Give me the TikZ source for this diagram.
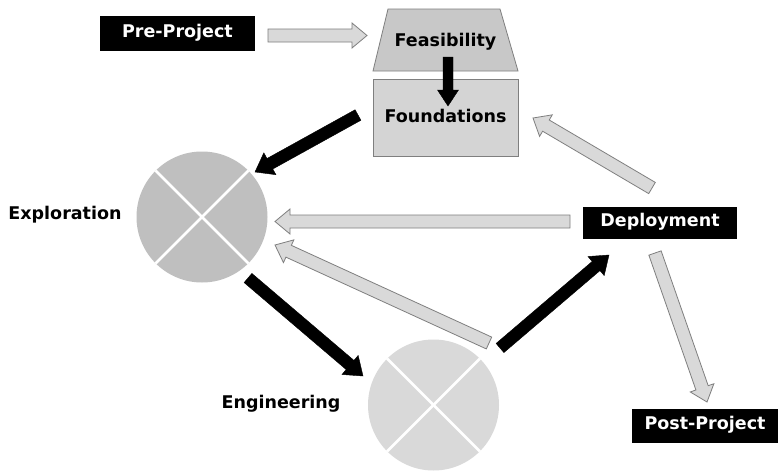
\documentclass[tikz,border=0pt]{standalone}
\usepackage{fontspec}
\setmainfont{DejaVu Sans}
\usetikzlibrary{calc}
\definecolor{arrowfill}{HTML}{D9D9D9}
\definecolor{arrowline}{HTML}{7F7F7F}
\definecolor{feasfill}{HTML}{C8C8C8}
\definecolor{foundfill}{HTML}{D4D4D4}
\definecolor{explofill}{HTML}{BFBFBF}
\definecolor{engfill}{HTML}{D9D9D9}
% #1 style, #2 from, #3 to, #4 half shaft, #5 half head, #6 head length
\newcommand{\blockarrow}[6]{%
 \coordinate (neck) at ($(#3)!#6!(#2)$);
 \filldraw[#1] ($(#2)!#4!90:(#3)$) -- ($(neck)!#4!90:(#3)$) -- ($(neck)!#5!90:(#3)$) -- (#3)
  -- ($(neck)!#5!-90:(#3)$) -- ($(neck)!#4!-90:(#3)$) -- ($(#2)!#4!-90:(#3)$) -- cycle;
}
\begin{document}
\begin{tikzpicture}[
 x=1pt,y=-1pt,
 txt/.style={font=\bfseries\fontsize{17.5}{20}\selectfont,text height=0.73em,text depth=0pt,inner sep=0pt},
 box/.style={txt,rectangle,fill=black,text=white},
 plate/.style={draw=arrowline,line width=0.8pt},
 phase/.style={circle,minimum size=131pt,inner sep=0pt},
 cross/.style={white,line width=2.5pt},
 light/.style={fill=arrowfill,draw=arrowline,line width=0.8pt},
 heavy/.style={fill=black,draw=black,line width=0.4pt}
]
\useasboundingbox [fill=white] (0,0) rectangle (779,471);
\draw [plate,fill=foundfill] (373,79) rectangle (518,156);
\node (found-box) [txt] at (445.5,118.5) {Foundations};
\draw [plate,fill=feasfill] (373,71) -- (518,71) -- (500,9) -- (388,9) -- cycle;
\node (feas-box) [txt] at (445.5,42.5) {Feasibility};
\node (pre-box) [box,minimum width=155pt,minimum height=35pt] at (177.5,33.5) {Pre-Project};
\node (deploy-box) [box,minimum width=154pt,minimum height=32pt] at (660,222.5) {Deployment};
\node (post-box) [box,minimum width=146pt,minimum height=34pt] at (705,425.5) {Post-Project};
\node (explo-circle) [phase,fill=explofill] at (202,217) {};
\draw [cross] (explo-circle.45) -- (explo-circle.225);
\draw [cross] (explo-circle.135) -- (explo-circle.315);
\node (explo-label) [txt] at (65,216) {Exploration};
\node (eng-circle) [phase,fill=engfill] at (433.5,405) {};
\draw [cross] (eng-circle.45) -- (eng-circle.225);
\draw [cross] (eng-circle.135) -- (eng-circle.315);
\node (eng-label) [txt] at (281,404.5) {Engineering};
\coordinate (pre-out) at (268,35.5);
\coordinate (feas-in) at (367,35.5);
\coordinate (feas-out) at (448,57);
\coordinate (found-in) at (448,106);
\coordinate (found-out) at (358,115);
\coordinate (explo-in1) at (255,172);
\coordinate (explo-in2) at (275,221.5);
\coordinate (explo-in3) at (275,245);
\coordinate (explo-out) at (248,278);
\coordinate (eng-in) at (363,376);
\coordinate (eng-out1) at (489,343);
\coordinate (eng-out2) at (500,348);
\coordinate (deploy-in) at (609,255);
\coordinate (deploy-out1) at (570,221.5);
\coordinate (deploy-out2) at (652,188);
\coordinate (deploy-out3) at (655,253);
\coordinate (found-in2) at (533,118);
\coordinate (post-in) at (707,402);
\blockarrow{light}{pre-out}{feas-in}{6.5pt}{12.5pt}{15pt}
\blockarrow{heavy}{feas-out}{found-in}{5pt}{10.5pt}{16pt}
\blockarrow{heavy}{found-out}{explo-in1}{6pt}{12.5pt}{17pt}
\blockarrow{light}{deploy-out1}{explo-in2}{6.5pt}{12.5pt}{15pt}
\blockarrow{light}{eng-out1}{explo-in3}{6.5pt}{12.5pt}{15pt}
\blockarrow{heavy}{explo-out}{eng-in}{6pt}{12.5pt}{17pt}
\blockarrow{heavy}{eng-out2}{deploy-in}{6pt}{12.5pt}{17pt}
\blockarrow{light}{deploy-out2}{found-in2}{6.5pt}{12.5pt}{15pt}
\blockarrow{light}{deploy-out3}{post-in}{6.5pt}{12.5pt}{15pt}
\end{tikzpicture}
\end{document}
